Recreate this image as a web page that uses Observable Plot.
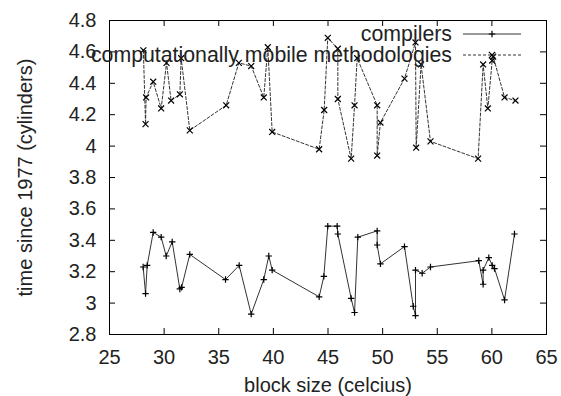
<!DOCTYPE html>
<html><head><meta charset="utf-8">
<script src="https://cdn.jsdelivr.net/npm/d3@7"></script>
<script src="https://cdn.jsdelivr.net/npm/@observablehq/plot@0.6"></script>
<style>body{margin:0;background:#fff}</style>
</head><body>
<script>
const compilersX = [28.08,28.30,28.45,29.00,29.73,30.19,30.74,31.44,31.60,32.35,35.62,36.87,37.97,39.12,39.58,39.89,44.19,44.62,44.98,45.84,45.90,47.12,47.43,47.73,49.50,49.50,49.80,52.00,52.80,53.01,53.01,53.62,54.38,58.80,59.20,59.20,59.72,60.03,60.24,61.16,62.07];
const compilersY = [3.23,3.06,3.24,3.45,3.42,3.30,3.39,3.09,3.10,3.31,3.15,3.24,2.93,3.15,3.30,3.21,3.04,3.17,3.49,3.49,3.44,3.03,2.94,3.42,3.46,3.37,3.25,3.36,2.98,2.92,3.21,3.19,3.23,3.27,3.12,3.21,3.29,3.24,3.22,3.02,3.44];
const methodX = [28.10,28.30,28.35,29.00,29.73,30.22,30.64,31.44,31.56,32.35,35.68,36.84,37.97,39.12,39.49,39.89,44.19,44.65,44.98,45.90,45.90,47.12,47.43,47.67,49.50,49.50,49.80,52.00,53.01,53.07,53.52,54.38,58.74,59.20,59.63,60.03,60.12,61.16,62.16];
const methodY = [4.61,4.14,4.31,4.41,4.24,4.53,4.29,4.33,4.56,4.10,4.26,4.53,4.51,4.31,4.63,4.09,3.98,4.23,4.69,4.62,4.30,3.92,4.26,4.56,4.26,3.94,4.15,4.43,4.66,3.99,4.52,4.03,3.92,4.52,4.24,4.545,4.57,4.31,4.29];
const xTicks = [25,30,35,40,45,50,55,60,65];
const yTicks = [2.8,3,3.2,3.4,3.6,3.8,4,4.2,4.4,4.6,4.8];
const seriesNames = ["compilers","computationally mobile methodologies"];
const xLabel = "block size (celcius)";
const yLabel = "time since 1977 (cylinders)";

const comp = compilersX.map((x,i)=>({x, y: compilersY[i]}));
const meth = methodX.map((x,i)=>({x, y: methodY[i]}));

const W=561,H=396,mL=109,mR=15,mT=20,mB=62;
const iw=W-mL-mR, ih=H-mT-mB, tk=6;
const font = "'Liberation Sans', Arial, sans-serif";
const ink = "#222";

const svg = Plot.plot({
  width:W, height:H, marginLeft:mL, marginRight:mR, marginTop:mT, marginBottom:mB,
  style:{fontFamily:font, fontSize:"20px", color:ink, background:"#fff"},
  x:{domain:[25,65]}, y:{domain:[2.8,4.8]},
  marks:[
    Plot.axisX(xTicks, {tickSize:0, tickPadding:15, tickFormat:d=>String(d), fontSize:20, label:null}),
    Plot.axisY(yTicks, {tickSize:0, tickPadding:13, tickFormat:d=>String(d), fontSize:20, label:null}),
    Plot.tickX(xTicks, {x:d=>d, insetTop:ih-tk, stroke:"#000"}),
    Plot.tickX(xTicks, {x:d=>d, insetBottom:ih-tk, stroke:"#000"}),
    Plot.tickY(yTicks, {y:d=>d, insetRight:iw-tk, stroke:"#000"}),
    Plot.tickY(yTicks, {y:d=>d, insetLeft:iw-tk, stroke:"#000"}),
    Plot.frame({stroke:"#000"}),
    Plot.line(comp, {x:"x", y:"y", stroke:"#333", strokeWidth:1}),
    Plot.dot(comp, {x:"x", y:"y", symbol:"plus", r:2.2, stroke:"#000", strokeWidth:1.2}),
    Plot.line(meth, {x:"x", y:"y", stroke:"#333", strokeWidth:1, strokeDasharray:"3,2"}),
    Plot.dot(meth, {x:"x", y:"y", symbol:"times", r:2.8, stroke:"#000", strokeWidth:1.2}),
    Plot.text([xLabel], {text:d=>d, frameAnchor:"bottom", dy:51, lineAnchor:"middle", textAnchor:"middle", fontSize:20, fill:ink}),
    Plot.text([yLabel], {text:d=>d, frameAnchor:"left", dx:-84, rotate:-90, textAnchor:"middle", lineAnchor:"middle", fontSize:20, fill:ink})
  ]
});

// legend (gnuplot-style, inside top right)
const s = d3.select(svg);
const g = s.append("g").attr("font-size", 21.3).attr("fill", ink);
const rows = [
  {name: seriesNames[0], y: 34, dash: null, sym: d3.symbolPlus, size: 16},
  {name: seriesNames[1], y: 55, dash: "3,2", sym: d3.symbolTimes, size: 28}
];
rows.forEach(r => {
  g.append("text").attr("x", 452).attr("y", r.y).attr("dy", "0.35em")
    .attr("text-anchor", "end").text(r.name);
  g.append("line").attr("x1", 463).attr("x2", 521).attr("y1", r.y).attr("y2", r.y)
    .attr("stroke", "#333").attr("stroke-dasharray", r.dash);
  g.append("path").attr("d", d3.symbol(r.sym, r.size)())
    .attr("transform", `translate(492,${r.y})`).attr("fill", "none")
    .attr("stroke", "#000").attr("stroke-width", 1.2);
});
document.body.appendChild(svg);
</script>
</body></html>
